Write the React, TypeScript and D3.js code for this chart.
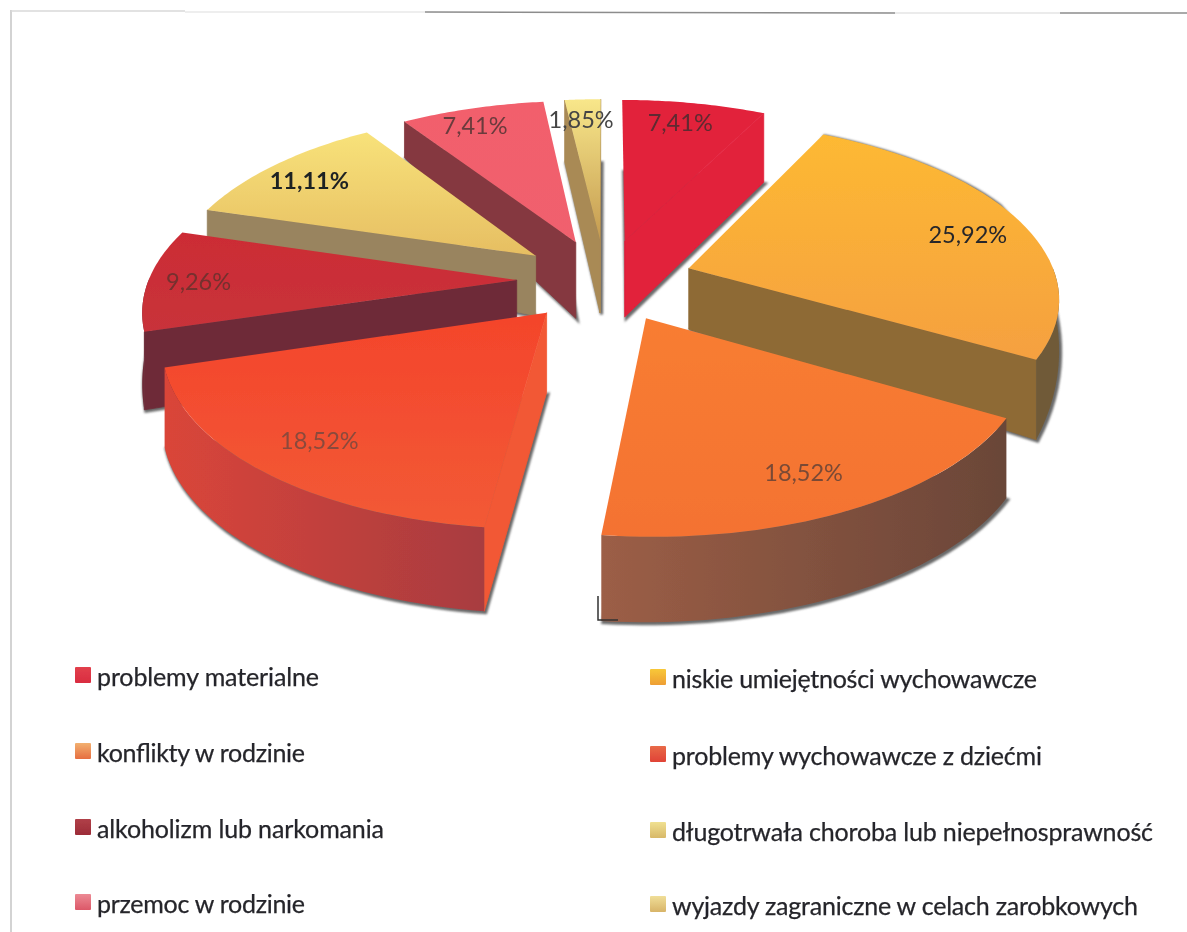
import React from "react";
import * as d3 from "d3";

const categories = [
  "problemy materialne",
  "niskie umiejętności wychowawcze",
  "konflikty w rodzinie",
  "problemy wychowawcze z dziećmi",
  "alkoholizm lub narkomania",
  "długotrwała choroba lub niepełnosprawność",
  "przemoc w rodzinie",
  "wyjazdy zagraniczne w celach zarobkowych",
];
const values = [7.41, 25.92, 18.52, 18.52, 9.26, 11.11, 7.41, 1.85];
const valueLabels = ["7,41%", "25,92%", "18,52%", "18,52%", "9,26%", "11,11%", "7,41%", "1,85%"];

// styles, per slice
const topStart = ["#E2203A", "#FDB933", "#F87D33", "#F4442B", "#CC2C35", "#F8E27A", "#F25F6C", "#F8E78A"];
const topEnd = ["#E2203A", "#F5A040", "#F47233", "#F25A36", "#C8323A", "#E6BE62", "#F0606E", "#C49A50"];
const radialWall = ["#E2203A", "#8E6A36", "#92553A", "#F25834", "#6E2B38", "#99845F", "#85393F", "#A98A55"];
const wallStart = ["#DC2339", "#6F5A38", "#9C5E46", "#DA4539", "#6E2B38", "#99845F", "#85393F", "#A98A55"];
const wallEnd = ["#DC2339", "#6F5A38", "#6A4638", "#A83C40", "#6B2A38", "#99845F", "#83383F", "#A98A55"];
const labelColors = ["#5E2A30", "#26262A", "#7A4A36", "#8A4A3C", "#74302F", "#1E2024", "#6A3A3C", "#444444"];
const labelWeights = [400, 400, 400, 400, 400, 700, 400, 400];
const labelNudgeX = [-4, -1, -10, 6, -9, -5, -12, -4];
const labelNudgeY = [0, 6, -3, -3, 2, 2, -2, 0];
const wallApex = [76, 61, 70, 80, 70, 60, 76, 73];
const wallRimStart = [70, -60, 80, 84, 78, 40, 36, 62];
const wallRimEnd = [69, 80, 86, 80, 40, 30, 40, 62];
const paintOrder = [7, 6, 0, 5, 1, 4, 3, 2];
const swatchTop = ["#E2404C", "#F8C838", "#F2B070", "#E86A48", "#B04048", "#F0E090", "#EC8A94", "#F0DE98"];
const swatchBottom = ["#D92C40", "#EE9E34", "#E66E40", "#E04236", "#9C2C38", "#D8B868", "#DC5868", "#D8B468"];
const legendBaselines = [686, 688, 762, 765, 838, 841, 913, 915];
const legendWidths = [222, 365, 208, 370, 287, 481, 208, 466];

const W = 1187;
const H = 932;
const cx = 605;
const cy = 280;
const R = 368;
const squash = 0.47;
const persp = 0.15;
const explode = 0.24;
const labelRho = 0.84;

type Pt = [number, number];
const project = (u: number, v: number): Pt => {
  const s = 1 / (1 + persp * v);
  return [cx + R * u * s, cy - R * squash * v * s];
};
const dir = (a: number): Pt => [Math.sin(a), Math.cos(a)];
const line = d3.line<Pt>();
const closed = (pts: Pt[]) => line(pts) + "Z";
const down = (p: Pt, h: number): Pt => [p[0], p[1] + h];

const arcs = d3.pie<number>().sort(null).startAngle(0).endAngle(2 * Math.PI)(values);

const slices = arcs.map((arc, i) => {
  const a0 = arc.startAngle;
  const a1 = arc.endAngle;
  const mid = (a0 + a1) / 2;
  const [mx, my] = dir(mid);
  const ax = explode * mx;
  const ay = explode * my;
  const rimAt = (a: number): Pt => {
    const [dx, dy] = dir(a);
    return project(ax + dx, ay + dy);
  };
  const angleScale = d3.scaleLinear().domain([a0, a1]).range([wallRimStart[i], wallRimEnd[i]]);
  const heightAt = (a: number) => Math.max(0, angleScale(a));
  const steps = d3.range(0, 41).map((k) => a0 + ((a1 - a0) * k) / 40);
  const apex = project(ax, ay);
  const apexB = down(apex, wallApex[i]);
  const rim = steps.map(rimAt);
  const rimB = steps.map((a) => down(rimAt(a), heightAt(a)));
  const front = steps.filter((a) => Math.cos(a) < 0.02);
  const arcWall = front.length
    ? closed([...front.map(rimAt), ...front.map((a) => down(rimAt(a), heightAt(a))).reverse()])
    : null;
  const radial: string[] = [];
  if (Math.sin(a0) < 0) radial.push(closed([apex, rim[0], rimB[0], apexB]));
  if (Math.sin(a1) > 0) radial.push(closed([apex, rim[40], rimB[40], apexB]));
  const [lx, ly] = project(ax + labelRho * mx, ay + labelRho * my);
  return {
    i,
    top: closed([apex, ...rim]),
    bottom: closed([apexB, ...rimB]),
    arcWall,
    radial,
    lx: lx + labelNudgeX[i],
    ly: ly + labelNudgeY[i],
  };
});

const sans = "Lato, 'Open Sans', sans-serif";

export default function App() {
  return (
    <svg
      width={W}
      height={H}
      viewBox={`0 0 ${W} ${H}`}
      style={{ position: "absolute", left: 0, top: 0, background: "#fff" }}
    >
      <defs>
        <filter id="soft" x="-5%" y="-5%" width="110%" height="110%">
          <feGaussianBlur stdDeviation="0.7" />
        </filter>
        <filter id="textSoft" x="-5%" y="-20%" width="110%" height="140%">
          <feGaussianBlur stdDeviation="0.45" />
        </filter>
        <filter id="shadow" x="-10%" y="-10%" width="120%" height="120%">
          <feGaussianBlur stdDeviation="1.2" />
        </filter>
        {slices.map(({ i }) => (
          <React.Fragment key={i}>
            <linearGradient id={`top${i}`} x1="0" y1="0" x2="0" y2="1">
              <stop offset="0" stopColor={topStart[i]} />
              <stop offset="1" stopColor={topEnd[i]} />
            </linearGradient>
            <linearGradient id={`wall${i}`} x1="0" y1="0" x2="1" y2="0">
              <stop offset="0" stopColor={wallStart[i]} />
              <stop offset="1" stopColor={wallEnd[i]} />
            </linearGradient>
            <linearGradient id={`swatch${i}`} x1="0" y1="0" x2="0" y2="1">
              <stop offset="0" stopColor={swatchTop[i]} />
              <stop offset="1" stopColor={swatchBottom[i]} />
            </linearGradient>
          </React.Fragment>
        ))}
      </defs>

      {/* frame of the scanned page */}
      <g fill="none">
        <line x1={11} y1={10} x2={11} y2={H} stroke="#c4c4c4" strokeWidth={1.5} />
        <line x1={11} y1={11} x2={185} y2={11} stroke="#d8d8d8" strokeWidth={1.5} />
        <line x1={185} y1={12} x2={425} y2={12} stroke="#e8e8e8" strokeWidth={1.5} />
        <line x1={425} y1={12} x2={895} y2={13} stroke="#8c8c8c" strokeWidth={1.5} />
        <line x1={895} y1={13} x2={1060} y2={13} stroke="#e4e4e4" strokeWidth={1.5} />
        <line x1={1060} y1={13} x2={W} y2={13} stroke="#8c8c8c" strokeWidth={1.5} />
      </g>

      <g filter="url(#soft)">
        {paintOrder.map((idx) => {
          const s = slices[idx];
          return (
            <g key={idx}>
              <path d={s.bottom} fill="#6a6a6a" stroke="#6a6a6a" strokeWidth={3} filter="url(#shadow)" transform="translate(1.5,1.5)" />
              {s.radial.map((d, k) => (
                <path key={k} d={d} fill={radialWall[idx]} stroke={radialWall[idx]} strokeWidth={0.8} />
              ))}
              {s.arcWall && <path d={s.arcWall} fill={`url(#wall${idx})`} />}
              <path d={s.top} fill={`url(#top${idx})`} />
            </g>
          );
        })}
      </g>

      {/* scan speck below the chart */}
      <path d="M598,596V620H618" fill="none" stroke="#333" strokeWidth={1.5} filter="url(#soft)" />

      <g filter="url(#textSoft)" fontFamily={sans} fontSize={23.5} textAnchor="middle">
        {slices.map((s) => (
          <text
            key={s.i}
            x={s.lx}
            y={s.ly}
            dy="0.36em"
            fill={labelColors[s.i]}
            fontWeight={labelWeights[s.i]}
          >
            {valueLabels[s.i]}
          </text>
        ))}
      </g>

      <g filter="url(#textSoft)" fontFamily={sans} fontSize={25} fill="#25252a" stroke="#25252a" strokeWidth={0.25}>
        {categories.map((c, i) => {
          const col = i % 2;
          const base = legendBaselines[i];
          const textX = col === 0 ? 97 : 672;
          const boxX = col === 0 ? 75 : 650;
          return (
            <g key={c}>
              <rect x={boxX} y={base - 19} width={16} height={16} rx={1} fill={`url(#swatch${i})`} stroke="none" />
              <text x={textX} y={base} textLength={legendWidths[i]} lengthAdjust="spacing">
                {c}
              </text>
            </g>
          );
        })}
      </g>
    </svg>
  );
}
